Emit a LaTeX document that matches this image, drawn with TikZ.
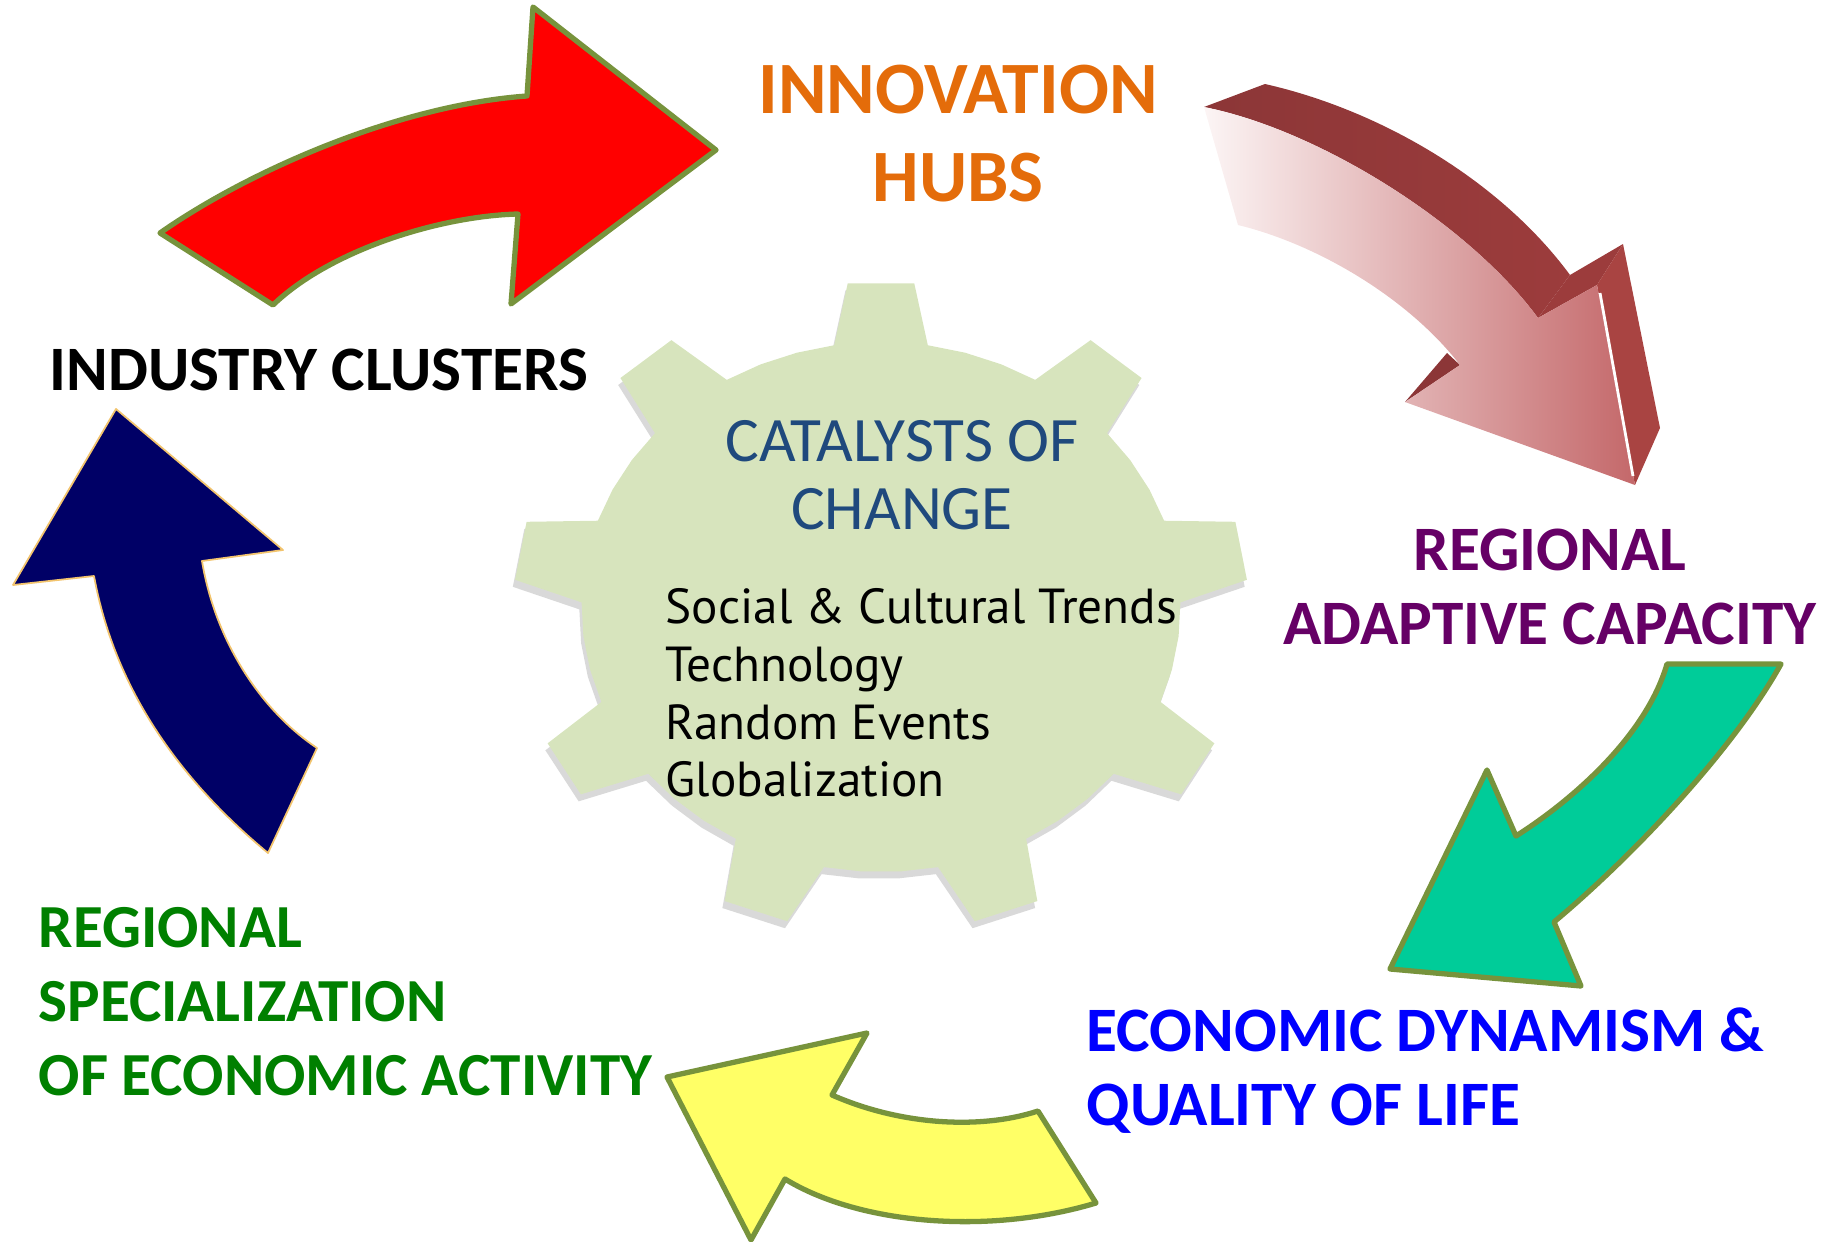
\documentclass[tikz,border=0pt]{standalone}
\usepackage{fontspec}
\setmainfont{Carlito}
\newfontfamily\listfont{PT Sans}
\definecolor{myorange}{HTML}{E46C0A}
\definecolor{mypurple}{HTML}{660066}
\definecolor{myblue}{HTML}{0000FF}
\definecolor{mygreen}{HTML}{008000}
\definecolor{titleblue}{HTML}{1F497D}
\definecolor{gearfill}{HTML}{D7E4BD}
\definecolor{arrowedge}{HTML}{77933C}
\definecolor{myred}{HTML}{FF0000}
\definecolor{mynavy}{HTML}{000066}
\definecolor{navyedge}{HTML}{F2C46E}
\definecolor{myyellow}{HTML}{FFFF66}
\definecolor{myteal}{HTML}{00CC99}
\definecolor{wine}{HTML}{8C3637}
\definecolor{winemid}{HTML}{9C3C3C}
\definecolor{winelight}{HTML}{A94442}
\definecolor{rosewhite}{HTML}{FCF5F5}
\definecolor{rosered}{HTML}{C4686A}
\tikzset{
  heading/.style={font=\fontsize{18}{21}\selectfont\bfseries, inner sep=0pt},
  flatarrow/.style={draw=arrowedge, line width=1.5pt, line join=round},
  gearoutline/.style={insert path={(261:265)
      \foreach \t [evaluate=\t as \a using 270+40*\t] in {0,...,8}{
        -- ({\a-5.2}:325) -- ({\a+5.2}:325) -- ({\a+9}:265)
        -- ({\a+16.3}:265) -- ({\a+23.7}:265) -- ({\a+31}:265)} -- cycle}},
}

\begin{document}
\begin{tikzpicture}[x=0.01cm, y=-0.01cm]
  \useasboundingbox (0,0) rectangle (1841,1242);
  % gear
  \begin{scope}[shift={(881,607)}, xscale=1.13]
    \fill[black, opacity=0.15, shift={(-2,7)}, gearoutline];
    \fill[gearfill, gearoutline];
  \end{scope}
  \node[inner sep=0pt, font=\fontsize{18}{19.3}\selectfont, text=titleblue, align=center, anchor=north] (catalysts) at (902,420) {CATALYSTS OF\\CHANGE};
  \node[inner sep=0pt, font=\listfont\fontsize{14}{16.4}\selectfont, align=left, anchor=north west] (trends) at (665,588) {Social \& Cultural Trends\\Technology\\Random Events\\Globalization};

  % labels round the cycle
  \node[heading, font=\fontsize{21}{25}\selectfont\bfseries, text=myorange, align=center, anchor=north] (innov) at (958,64) {INNOVATION\\HUBS};
  \node[heading, text=mypurple, align=center, anchor=north] (adaptive) at (1550,528) {REGIONAL\\ADAPTIVE CAPACITY};
  \node[heading, text=myblue, align=left, anchor=north west] (dynamism) at (1086,1007) {ECONOMIC DYNAMISM \&\\QUALITY OF LIFE};
  \node[heading, font=\fontsize{17.4}{21}\selectfont\bfseries, text=mygreen, align=left, anchor=north west] (special) at (38,907) {REGIONAL\\SPECIALIZATION\\OF ECONOMIC ACTIVITY};
  \node[heading, anchor=base west] (clusters) at (49,390) {INDUSTRY CLUSTERS};

  % red arrow
  \draw[flatarrow, fill=myred] (160,233) .. controls (250,170) and (400,105) .. (527,96) -- (533,7) -- (716,150)
    -- (511,304) -- (518,214) .. controls (440,216) and (330,250) .. (273,305) -- cycle;
  % 3d arrow
  \shade[left color=wine, right color=winemid] (1204,107) -- (1265,84) .. controls (1380,110) and (1500,180) .. (1570,275)
    -- (1538,318) .. controls (1470,225) and (1320,130) .. (1204,107) -- cycle;
  \fill[winemid] (1538,318) -- (1570,275) -- (1623,244) -- (1597,285) -- cycle;
  \fill[winelight] (1597,285) -- (1623,244) -- (1660,428) -- (1635,485) -- cycle;
  \fill[wine] (1405,402) -- (1447,353) -- (1460,365) -- cycle;
  \shade[left color=rosewhite, right color=rosered] (1204,107) -- (1238,225) .. controls (1320,245) and (1410,300) .. (1460,365)
    -- (1405,402) -- (1635,485) -- (1597,285) -- (1538,318) .. controls (1470,225) and (1320,130) .. (1204,107) -- cycle;
  \draw[white, line width=0.8pt] (1600,293) -- (1633,476);
  % teal arrow
  \draw[flatarrow, fill=myteal] (1667,664) -- (1781,664) .. controls (1731,754) and (1626,862) .. (1554,922)
    -- (1581,986) -- (1390,969) -- (1487,770) -- (1516,836) .. controls (1565,805) and (1645,740) .. (1667,664) -- cycle;
  % yellow arrow
  \draw[flatarrow, fill=myyellow] (667,1077) -- (867,1033) -- (832,1095) .. controls (900,1125) and (980,1130) .. (1038,1111)
    -- (1096,1203) .. controls (990,1235) and (860,1225) .. (785,1179) -- (751,1240) -- cycle;
  % navy arrow
  \draw[draw=navyedge, line width=0.5pt, fill=mynavy, line join=round] (116,409) -- (283,550) -- (202,561)
    .. controls (215,640) and (260,710) .. (317,748) -- (268,853) .. controls (180,780) and (115,690) .. (94,576)
    -- (13,585) -- cycle;
\end{tikzpicture}
\end{document}
